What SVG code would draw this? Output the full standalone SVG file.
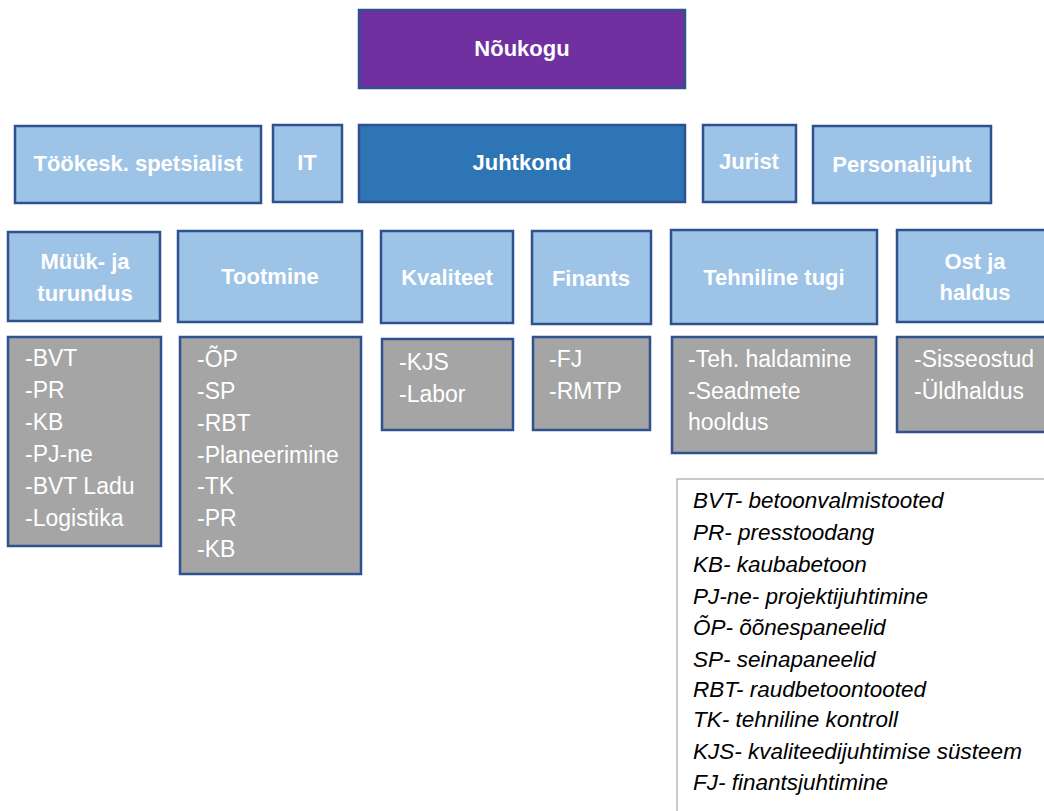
<svg xmlns="http://www.w3.org/2000/svg" width="1044" height="811" viewBox="0 0 1044 811">
  <style>
    .box { stroke: #2f528f; stroke-width: 2.5; }
    .top { fill: #7030a0; }
    .lead { fill: #2e75b6; }
    .unit { fill: #9dc3e6; }
    .list { fill: #a5a5a5; }
    .hdr { font-family: "Liberation Sans", Arial, sans-serif; font-weight: bold; font-size: 22px; fill: #ffffff; text-anchor: middle; }
    .item { font-family: "Liberation Sans", Arial, sans-serif; font-size: 23px; fill: #ffffff; }
    .legend { fill: #ffffff; stroke: #a6a6a6; stroke-width: 1.2; }
    .abbr { font-family: "Liberation Sans", Arial, sans-serif; font-style: italic; font-size: 22.5px; fill: #000000; }
  </style>

  <!-- Board -->
  <g id="noukogu">
    <rect class="box top" x="359" y="10" width="326" height="78"/>
    <text class="hdr" x="522" y="56">Nõukogu</text>
  </g>

  <!-- Management row -->
  <g id="tookesk">
    <rect class="box unit" x="15" y="126" width="246" height="77"/>
    <text class="hdr" x="138" y="171">Töökesk. spetsialist</text>
  </g>
  <g id="it">
    <rect class="box unit" x="273" y="125" width="69" height="77"/>
    <text class="hdr" x="307" y="170">IT</text>
  </g>
  <g id="juhtkond">
    <rect class="box lead" x="359" y="125" width="326" height="77"/>
    <text class="hdr" x="522" y="170">Juhtkond</text>
  </g>
  <g id="jurist">
    <rect class="box unit" x="703" y="125" width="93" height="77"/>
    <text class="hdr" x="749" y="169">Jurist</text>
  </g>
  <g id="personalijuht">
    <rect class="box unit" x="813" y="126" width="178" height="77"/>
    <text class="hdr" x="902" y="172">Personalijuht</text>
  </g>

  <!-- Departments -->
  <g id="myyk">
    <rect class="box unit" x="8" y="232" width="152" height="89"/>
    <text class="hdr" x="85" y="269">Müük- ja</text>
    <text class="hdr" x="85" y="301">turundus</text>
    <rect class="box list" x="8" y="337" width="153" height="209"/>
    <text class="item" x="25" y="366">-BVT</text>
    <text class="item" x="25" y="398">-PR</text>
    <text class="item" x="25" y="430">-KB</text>
    <text class="item" x="25" y="462">-PJ-ne</text>
    <text class="item" x="25" y="494">-BVT Ladu</text>
    <text class="item" x="25" y="526">-Logistika</text>
  </g>

  <g id="tootmine">
    <rect class="box unit" x="178" y="231" width="184" height="91"/>
    <text class="hdr" x="270" y="284">Tootmine</text>
    <rect class="box list" x="180" y="337" width="181" height="237"/>
    <text class="item" x="197" y="367">-ÕP</text>
    <text class="item" x="197" y="399">-SP</text>
    <text class="item" x="197" y="431">-RBT</text>
    <text class="item" x="197" y="463">-Planeerimine</text>
    <text class="item" x="197" y="494">-TK</text>
    <text class="item" x="197" y="526">-PR</text>
    <text class="item" x="197" y="557">-KB</text>
  </g>

  <g id="kvaliteet">
    <rect class="box unit" x="381" y="231" width="132" height="92"/>
    <text class="hdr" x="447" y="285">Kvaliteet</text>
    <rect class="box list" x="382" y="339" width="131" height="91"/>
    <text class="item" x="399" y="370">-KJS</text>
    <text class="item" x="399" y="402">-Labor</text>
  </g>

  <g id="finants">
    <rect class="box unit" x="532" y="231" width="119" height="93"/>
    <text class="hdr" x="591" y="286">Finants</text>
    <rect class="box list" x="533" y="337" width="117" height="93"/>
    <text class="item" x="549" y="367">-FJ</text>
    <text class="item" x="549" y="399">-RMTP</text>
  </g>

  <g id="tehniline">
    <rect class="box unit" x="671" y="230" width="206" height="94"/>
    <text class="hdr" x="774" y="285">Tehniline tugi</text>
    <rect class="box list" x="672" y="337" width="204" height="116"/>
    <text class="item" x="688" y="367">-Teh. haldamine</text>
    <text class="item" x="688" y="399">-Seadmete</text>
    <text class="item" x="688" y="430">hooldus</text>
  </g>

  <g id="ost">
    <rect class="box unit" x="897" y="230" width="157" height="92"/>
    <text class="hdr" x="975" y="269">Ost ja</text>
    <text class="hdr" x="975" y="300">haldus</text>
    <rect class="box list" x="897" y="337" width="157" height="95"/>
    <text class="item" x="914" y="367">-Sisseostud</text>
    <text class="item" x="914" y="399">-Üldhaldus</text>
  </g>

  <!-- Abbreviation key -->
  <g id="legend">
    <rect class="legend" x="677" y="479" width="380" height="340"/>
    <text class="abbr" x="693" y="508">BVT- betoonvalmistooted</text>
    <text class="abbr" x="693" y="540">PR- presstoodang</text>
    <text class="abbr" x="693" y="572">KB- kaubabetoon</text>
    <text class="abbr" x="693" y="604">PJ-ne- projektijuhtimine</text>
    <text class="abbr" x="693" y="635">ÕP- õõnespaneelid</text>
    <text class="abbr" x="693" y="667">SP- seinapaneelid</text>
    <text class="abbr" x="693" y="697">RBT- raudbetoontooted</text>
    <text class="abbr" x="693" y="727">TK- tehniline kontroll</text>
    <text class="abbr" x="693" y="759">KJS- kvaliteedijuhtimise süsteem</text>
    <text class="abbr" x="693" y="790">FJ- finantsjuhtimine</text>
  </g>

  <!-- No connectors are drawn between the boxes -->
  <g id="connectors"/>
</svg>
